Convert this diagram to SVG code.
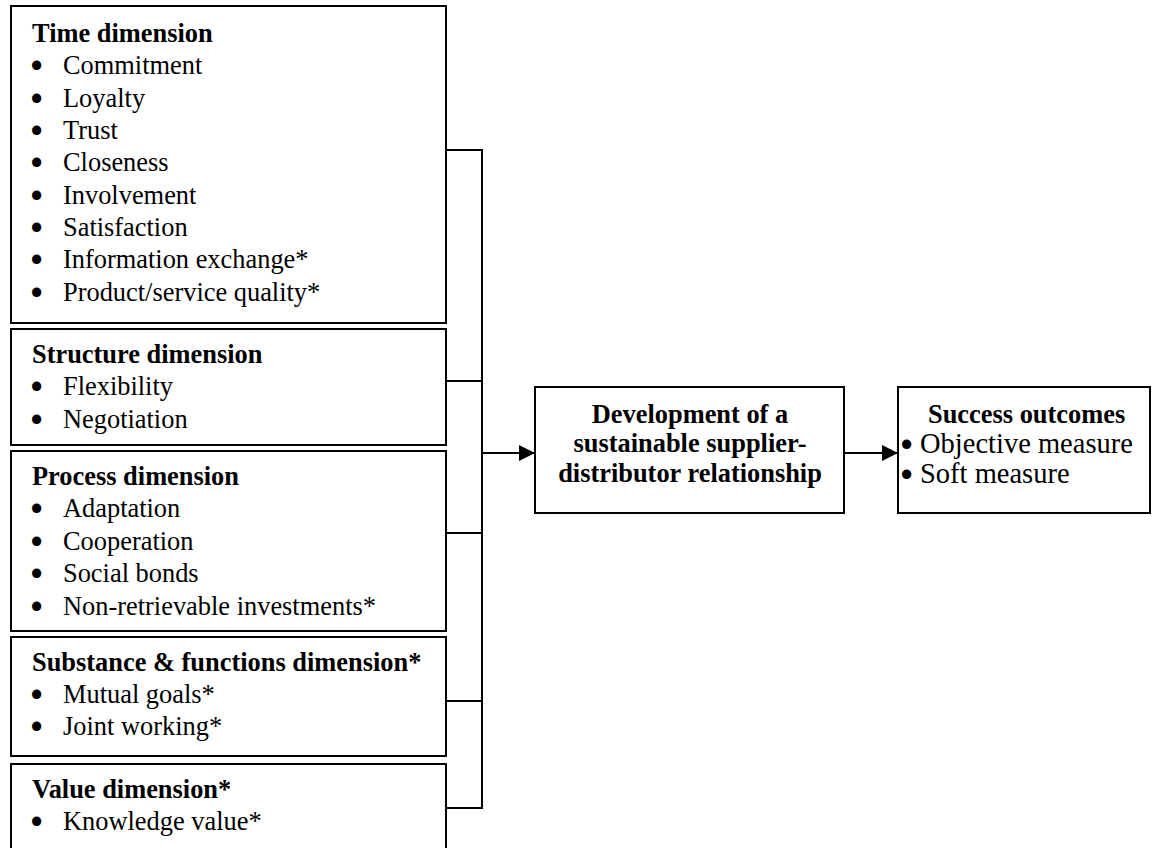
<svg xmlns="http://www.w3.org/2000/svg" width="1153" height="848" viewBox="0 0 1153 848">
<defs>
<style>
.box{fill:#fff;stroke:#000;stroke-width:2}
.t{font-family:"Liberation Serif","Times New Roman",serif;font-size:26.4px;fill:#000}
.b{font-weight:bold}
.s{font-size:28.5px}
.bl{font-family:"Liberation Serif","Times New Roman",serif;font-size:26.4px;fill:#000;stroke:#000;stroke-width:3}
.c{fill:none;stroke:#000;stroke-width:2}
</style>
<marker id="ah" viewBox="0 0 16 16" refX="16" refY="8" markerWidth="16" markerHeight="16" markerUnits="userSpaceOnUse" orient="auto">
<path d="M0,0 L16,8 L0,16 Z" fill="#000"/>
</marker>
</defs>
<rect width="1153" height="848" fill="#fff"/>
<g id="connectors">
<path class="c" d="M446,150 H482 V808 H446 M446,381 H482 M446,533 H482 M446,701 H482"/>
<line class="c" x1="482" y1="453" x2="535" y2="453" marker-end="url(#ah)"/>
<line class="c" x1="844" y1="453" x2="898" y2="453" marker-end="url(#ah)"/>
</g>
<g id="time">
<rect class="box" x="11" y="6" width="435" height="317"/>
<text class="t b" x="32" y="42">Time dimension</text>
<g class="bl"><text x="32" y="75">•</text><text x="32" y="108">•</text><text x="32" y="140">•</text><text x="32" y="172">•</text><text x="32" y="205">•</text><text x="32" y="237">•</text><text x="32" y="269">•</text><text x="32" y="302">•</text></g>
<text class="t" x="63" y="74">Commitment</text>
<text class="t" x="63" y="107">Loyalty</text>
<text class="t" x="63" y="139">Trust</text>
<text class="t" x="63" y="171">Closeness</text>
<text class="t" x="63" y="204">Involvement</text>
<text class="t" x="63" y="236">Satisfaction</text>
<text class="t" x="63" y="268">Information exchange*</text>
<text class="t" x="63" y="301">Product/service quality*</text>
</g>
<g id="structure">
<rect class="box" x="11" y="329" width="435" height="116"/>
<text class="t b" x="32" y="363">Structure dimension</text>
<g class="bl"><text x="32" y="396">•</text><text x="32" y="429">•</text></g>
<text class="t" x="63" y="395">Flexibility</text>
<text class="t" x="63" y="428">Negotiation</text>
</g>
<g id="process">
<rect class="box" x="11" y="451" width="435" height="180"/>
<text class="t b" x="32" y="485">Process dimension</text>
<g class="bl"><text x="32" y="518">•</text><text x="32" y="551">•</text><text x="32" y="583">•</text><text x="32" y="616">•</text></g>
<text class="t" x="63" y="517">Adaptation</text>
<text class="t" x="63" y="550">Cooperation</text>
<text class="t" x="63" y="582">Social bonds</text>
<text class="t" x="63" y="615">Non-retrievable investments*</text>
</g>
<g id="substance">
<rect class="box" x="11" y="637" width="435" height="119"/>
<text class="t b" x="32" y="671">Substance &amp; functions dimension*</text>
<g class="bl"><text x="32" y="704">•</text><text x="32" y="736">•</text></g>
<text class="t" x="63" y="703">Mutual goals*</text>
<text class="t" x="63" y="735">Joint working*</text>
</g>
<g id="value">
<rect class="box" x="11" y="764" width="435" height="100"/>
<text class="t b" x="32" y="798">Value dimension*</text>
<g class="bl"><text x="32" y="831">•</text></g>
<text class="t" x="63" y="830">Knowledge value*</text>
</g>
<g id="development">
<rect class="box" x="535" y="387" width="309" height="126"/>
<text class="t b" x="690" y="423" text-anchor="middle">Development of a</text>
<text class="t b" x="690" y="452" text-anchor="middle">sustainable supplier-</text>
<text class="t b" x="690" y="482" text-anchor="middle">distributor relationship</text>
</g>
<g id="success">
<rect class="box" x="898" y="387" width="252" height="126"/>
<text class="t b" x="928" y="423">Success outcomes</text>
<g class="bl"><text x="902" y="454">•</text><text x="902" y="484">•</text></g>
<text class="t s" x="920" y="453">Objective measure</text>
<text class="t s" x="920" y="483">Soft measure</text>
</g>
</svg>
